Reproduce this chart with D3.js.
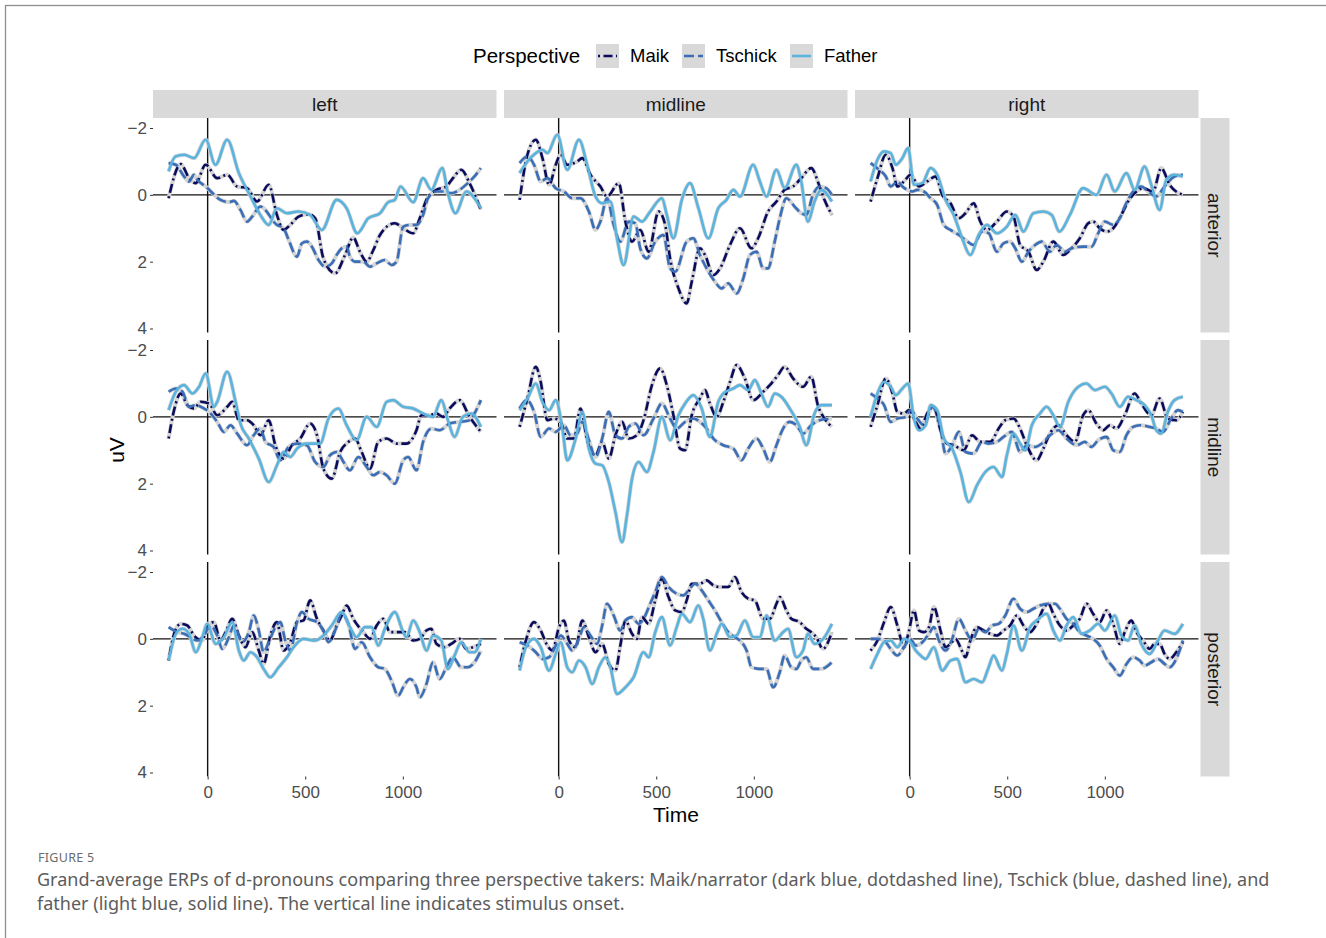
<!DOCTYPE html>
<html><head><meta charset="utf-8">
<script src="https://cdn.jsdelivr.net/npm/d3@7"></script>
<style>body{margin:0;background:#fff}svg{display:block}</style>
</head><body>
<svg id="c" width="1326" height="938"></svg>
<script>
// ---------------- DATA (time in ms, amplitude in uV) ----------------
const hemispheres = ["left", "midline", "right"];
const regions = ["anterior", "midline", "posterior"];
const perspectives = ["Maik", "Tschick", "Father"];
const xTicks = [0, 500, 1000];
const yTicks = [-2, 0, 2, 4];

// anterior
const antLeftMaik = [[-200,0.1],[-138,-0.92],[-95,-0.5],[-61,-0.35],[-10,-0.9],[49,-0.5],[100,-0.6],[151,-0.25],[202,-0.2],[253,0.2],[313,-0.3],[355,0.6],[389,1.05],[423,0.9],[466,0.65],[517,0.58],[551,0.7],[593,1.9],[653,2.35],[704,1.8],[746,1.28],[780,1.7],[815,2.0],[849,1.65],[883,1.2],[959,0.85],[1002,1.0],[1053,1.15],[1087,0.7],[1121,0.15],[1172,-0.15],[1223,-0.25],[1257,-0.5],[1299,-0.75],[1342,-0.35],[1400,0.45]];
const antLeftTschick = [[-200,-0.95],[-163,-0.9],[-121,-0.55],[-95,-0.4],[-70,-0.6],[-53,-0.45],[-10,-0.25],[66,0.15],[109,0.22],[134,0.18],[168,0.45],[202,0.8],[228,0.65],[270,0.35],[355,0.9],[389,1.0],[415,1.35],[458,1.85],[483,1.45],[508,1.4],[534,1.55],[568,1.95],[602,2.15],[636,2.05],[661,1.8],[687,1.6],[712,1.55],[729,1.85],[755,2.0],[798,2.0],[831,2.15],[866,2.05],[908,1.95],[942,2.1],[968,2.0],[1002,0.95],[1036,0.9],[1070,0.9],[1104,0.6],[1129,0.1],[1172,-0.1],[1206,-0.1],[1248,-0.05],[1291,-0.15],[1333,-0.35],[1367,-0.55],[1400,-0.8]];
const antLeftFather = [[-200,-0.7],[-165,-1.15],[-120,-1.2],[-70,-1.1],[-10,-1.65],[40,-0.9],[100,-1.65],[160,-0.65],[220,0.05],[270,0.6],[313,0.9],[355,0.4],[406,0.55],[466,0.5],[525,0.6],[585,1.05],[661,0.15],[712,0.4],[767,1.15],[823,0.7],[883,0.55],[925,0.22],[959,0.15],[988,-0.25],[1053,0.22],[1104,-0.5],[1146,-0.15],[1202,-0.8],[1231,-0.05],[1270,0.55],[1325,-0.1],[1400,0.4]];

const antMidMaik = [[-200,0.15],[-160,-1.2],[-117,-1.65],[-83,-1.1],[-49,-0.3],[-15,-0.9],[10,-1.2],[44,-0.9],[95,-1.0],[121,-1.1],[163,-0.6],[214,-0.25],[248,0.05],[308,-0.35],[342,0.8],[376,1.4],[418,1.05],[461,1.7],[512,0.5],[546,0.9],[571,1.9],[614,2.8],[656,3.25],[682,2.6],[724,1.6],[750,1.8],[793,2.4],[827,2.2],[878,1.5],[929,1.0],[988,1.6],[1022,1.3],[1073,0.5],[1116,0.2],[1158,-0.15],[1201,-0.25],[1243,-0.5],[1294,-0.8],[1337,-0.25],[1362,0.15],[1400,0.6]];
const antMidTschick = [[-200,-0.95],[-160,-1.15],[-126,-0.9],[-92,-0.4],[-58,-0.5],[-15,-0.2],[27,-0.1],[70,0.1],[112,0.1],[155,0.5],[189,1.05],[214,0.8],[248,0.1],[282,0.9],[316,1.4],[359,0.8],[393,0.85],[418,1.6],[452,1.9],[495,1.4],[537,1.2],[571,2.2],[597,2.3],[656,1.4],[690,1.3],[724,1.8],[758,2.2],[801,2.6],[835,2.8],[869,2.65],[912,2.95],[946,2.5],[980,1.8],[1014,1.7],[1048,2.2],[1073,2.2],[1107,1.4],[1133,0.7],[1167,0.1],[1209,0.35],[1243,0.55],[1269,0.6],[1303,0.0],[1337,-0.25],[1371,-0.2],[1400,0.0]];
const antMidFather = [[-200,-0.65],[-160,-1.0],[-117,-1.25],[-83,-1.35],[-58,-1.25],[-7,-1.8],[44,-0.75],[104,-1.65],[146,-0.9],[189,0.05],[223,0.25],[265,0.2],[299,1.3],[333,2.1],[384,0.65],[427,0.8],[469,0.5],[529,0.1],[554,0.6],[588,1.3],[631,0.15],[673,-0.35],[716,0.4],[767,1.3],[818,0.4],[860,0.15],[895,-0.15],[929,0.05],[997,-0.9],[1031,-0.4],[1065,0.05],[1116,-0.75],[1158,-0.2],[1218,-0.9],[1243,-0.4],[1277,0.8],[1311,0.2],[1345,-0.15],[1400,0.2]];

const antRightMaik = [[-200,0.2],[-165,-0.5],[-122,-1.2],[-88,-0.8],[-63,-0.25],[-29,-0.4],[5,-0.6],[48,-0.25],[90,-0.4],[133,-0.55],[167,0.0],[209,0.25],[252,0.7],[286,0.55],[328,0.25],[362,0.8],[396,1.05],[447,0.8],[498,0.5],[532,0.65],[566,1.5],[609,1.7],[651,2.25],[685,2.0],[736,1.4],[787,1.8],[830,1.6],[872,1.3],[915,0.85],[940,0.8],[974,1.0],[1009,1.1],[1043,1.0],[1085,0.6],[1119,0.2],[1162,-0.1],[1196,-0.2],[1247,-0.1],[1289,-0.8],[1332,-0.3],[1400,0.0]];
const antRightTschick = [[-200,-0.95],[-156,-0.75],[-122,-0.55],[-97,-0.25],[-63,-0.4],[-37,-0.25],[-12,-0.15],[14,-0.1],[39,-0.15],[73,-0.1],[107,0.1],[141,0.3],[175,0.9],[209,1.05],[252,1.2],[286,1.35],[328,1.5],[371,1.1],[405,1.15],[447,1.7],[481,1.45],[515,1.4],[541,1.6],[575,2.0],[609,1.7],[643,1.5],[677,1.4],[719,1.7],[753,1.5],[796,1.7],[830,1.6],[889,1.55],[932,1.55],[966,1.15],[1000,0.8],[1043,0.9],[1077,0.7],[1102,0.35],[1145,-0.1],[1187,-0.25],[1221,-0.1],[1264,0.05],[1306,-0.25],[1357,-0.55],[1400,-0.6]];
const antRightFather = [[-200,-0.4],[-165,-1.05],[-131,-1.3],[-97,-1.25],[-71,-0.9],[-37,-1.1],[-8,-1.4],[22,-0.3],[65,-0.35],[107,-0.8],[141,-0.6],[184,0.15],[226,0.6],[269,1.3],[311,1.8],[354,1.2],[396,0.9],[447,1.15],[498,0.95],[541,0.6],[583,1.1],[634,0.55],[685,0.5],[728,0.6],[767,1.1],[821,0.6],[889,-0.2],[957,0.0],[1009,-0.6],[1051,-0.1],[1111,-0.65],[1153,-0.15],[1204,-0.85],[1238,-0.3],[1281,0.45],[1315,-0.45],[1357,-0.6],[1400,-0.55]];

// midline
const midLeftMaik = [[-200,0.65],[-172,-0.2],[-138,-0.7],[-104,-0.35],[-70,-0.25],[-36,-0.45],[7,-0.4],[49,-0.05],[100,-0.3],[126,-0.45],[160,0.1],[202,0.1],[236,0.25],[270,0.55],[313,0.1],[347,0.85],[389,1.25],[432,0.85],[474,0.65],[525,0.2],[560,0.55],[593,1.55],[636,1.85],[679,1.05],[721,0.75],[755,0.65],[789,1.05],[832,1.55],[874,0.75],[917,0.65],[968,0.8],[1019,0.8],[1070,0.4],[1095,-0.05],[1138,-0.05],[1172,-0.1],[1206,0.0],[1240,-0.25],[1291,-0.5],[1342,0.0],[1400,0.45]];
const midLeftTschick = [[-200,-0.75],[-163,-0.85],[-129,-0.75],[-95,-0.3],[-61,-0.35],[-19,-0.25],[7,-0.15],[49,0.15],[83,0.45],[117,0.25],[151,0.5],[202,0.85],[236,0.55],[270,0.35],[296,0.75],[338,0.9],[372,1.3],[415,0.9],[458,0.8],[508,0.85],[551,1.35],[593,1.5],[627,1.15],[661,1.05],[696,1.35],[729,1.6],[772,1.2],[815,1.5],[849,1.75],[883,1.65],[917,1.75],[959,2.0],[1002,1.3],[1027,1.2],[1070,1.6],[1104,0.75],[1146,0.35],[1189,0.4],[1240,0.2],[1291,0.15],[1342,0.1],[1367,-0.1],[1400,-0.5]];
const midLeftFather = [[-200,-0.2],[-163,-0.75],[-121,-0.95],[-78,-0.7],[-44,-0.9],[-10,-1.3],[32,-0.3],[49,-0.45],[100,-1.35],[143,-0.45],[168,0.2],[211,0.65],[262,1.25],[313,1.95],[355,1.45],[389,1.05],[423,1.2],[458,0.95],[508,0.8],[576,0.8],[619,0.05],[670,-0.25],[712,0.25],[763,0.7],[815,0.0],[866,0.3],[917,-0.45],[951,-0.5],[1002,-0.3],[1053,-0.25],[1104,-0.1],[1155,0.0],[1197,-0.5],[1231,0.1],[1265,0.6],[1308,0.0],[1350,-0.1],[1400,0.3]];

const midMidMaik = [[-200,0.3],[-160,-0.55],[-117,-1.5],[-92,-1.05],[-58,0.1],[-24,0.05],[10,0.15],[44,0.65],[78,0.65],[112,-0.25],[146,0.7],[189,1.15],[223,0.75],[257,1.25],[291,0.55],[325,0.15],[359,0.65],[401,0.55],[435,0.1],[478,-0.95],[520,-1.45],[554,-0.95],[588,-0.05],[622,0.95],[648,1.0],[682,-0.05],[724,-0.55],[750,-0.8],[775,-0.4],[810,0.0],[844,-0.45],[878,-1.05],[912,-1.55],[954,-1.15],[997,-0.5],[1048,-0.75],[1082,-0.95],[1124,-1.25],[1158,-1.5],[1201,-1.15],[1252,-0.9],[1294,-1.2],[1328,-0.35],[1362,0.05],[1400,0.3]];
const midMidTschick = [[-200,-0.25],[-163,-0.5],[-126,-0.15],[-92,0.6],[-49,0.35],[-15,0.45],[27,0.25],[61,0.55],[95,0.5],[121,0.15],[155,0.7],[189,1.2],[223,0.65],[257,-0.15],[291,0.55],[325,0.65],[359,0.3],[393,0.2],[435,0.55],[486,0.05],[529,-0.4],[571,0.05],[605,0.35],[648,0.15],[690,0.05],[724,0.15],[758,0.35],[793,0.65],[844,0.85],[895,0.95],[937,1.3],[971,0.95],[1014,0.65],[1048,0.95],[1082,1.35],[1116,0.85],[1150,0.35],[1184,0.15],[1218,0.25],[1252,0.5],[1294,0.25],[1337,0.1],[1400,0.05]];
const midMidFather = [[-200,-0.2],[-160,-0.55],[-117,-1.0],[-83,-0.45],[-49,-0.2],[-15,-0.5],[19,0.35],[44,1.3],[87,0.65],[121,-0.15],[155,0.95],[189,1.4],[223,1.45],[257,1.95],[291,2.85],[325,3.75],[350,2.95],[376,1.85],[410,1.35],[452,1.65],[486,1.05],[529,0.0],[571,0.7],[614,-0.05],[648,-0.4],[690,-0.65],[733,-0.25],[775,0.6],[818,-0.45],[844,-0.7],[895,-0.85],[929,-0.95],[971,-0.8],[1005,-1.1],[1039,-0.7],[1073,-0.3],[1107,-0.7],[1141,-0.6],[1184,-0.25],[1235,0.3],[1269,0.85],[1311,-0.1],[1345,-0.35],[1400,-0.35]];

const midRightMaik = [[-200,0.3],[-165,-0.35],[-122,-1.15],[-88,-0.7],[-63,-0.15],[-29,-0.1],[-3,-0.2],[31,0.15],[56,0.35],[90,-0.1],[124,-0.3],[158,0.4],[192,0.8],[226,0.85],[277,1.0],[320,0.55],[362,0.75],[413,0.75],[456,0.35],[490,0.1],[532,0.05],[566,0.35],[600,0.85],[651,1.3],[685,0.95],[719,0.5],[762,0.25],[804,0.55],[847,0.75],[889,-0.05],[915,-0.2],[957,0.2],[992,0.4],[1026,0.25],[1060,0.35],[1102,-0.05],[1153,-0.7],[1187,-0.4],[1238,-0.05],[1281,-0.55],[1323,0.05],[1366,0.1],[1400,-0.15]];
const midRightTschick = [[-200,-0.7],[-165,-0.55],[-131,-0.35],[-97,0.15],[-63,0.05],[-20,0.0],[5,-0.2],[39,0.05],[73,0.25],[116,-0.3],[158,0.35],[184,1.1],[218,0.85],[252,0.45],[286,1.05],[328,1.1],[371,0.75],[405,0.8],[447,0.75],[481,0.6],[524,0.45],[566,1.05],[600,0.85],[643,0.9],[677,0.8],[719,0.55],[762,0.4],[804,0.65],[855,0.85],[898,0.75],[932,0.9],[966,0.7],[1009,0.6],[1043,1.0],[1077,1.05],[1111,0.55],[1145,0.3],[1179,0.25],[1230,0.3],[1264,0.35],[1298,0.45],[1340,0.05],[1374,-0.2],[1400,-0.15]];
const midRightFather = [[-200,0.0],[-165,-0.7],[-131,-1.05],[-97,-0.9],[-71,-0.65],[-37,-0.85],[-8,-1.0],[22,0.05],[48,0.4],[82,0.25],[107,-0.35],[141,-0.2],[175,0.65],[218,0.95],[260,1.65],[303,2.55],[345,2.05],[388,1.65],[430,1.5],[473,1.8],[498,1.15],[532,0.5],[566,0.8],[592,1.0],[626,0.25],[668,-0.1],[702,-0.3],[736,-0.05],[770,0.3],[813,-0.45],[855,-0.85],[906,-1.0],[949,-0.8],[1000,-0.9],[1034,-0.7],[1077,-0.3],[1119,-0.6],[1162,-0.5],[1204,-0.35],[1238,-0.05],[1264,0.4],[1289,0.5],[1323,-0.15],[1357,-0.5],[1400,-0.6]];

// posterior
const postLeftMaik = [[-200,0.65],[-172,-0.15],[-138,-0.45],[-104,-0.4],[-70,-0.1],[-27,0.05],[-2,-0.4],[32,-0.5],[66,0.05],[92,-0.2],[126,-0.6],[160,-0.1],[194,0.25],[228,-0.2],[262,0.35],[287,0.75],[321,-0.1],[355,-0.5],[389,0.35],[423,0.1],[458,-0.5],[491,-0.55],[525,-1.15],[560,-0.6],[593,-0.25],[627,0.05],[661,-0.4],[687,-0.7],[712,-1.0],[746,-0.6],[798,-0.2],[832,0.0],[866,-0.4],[900,-0.6],[934,-0.2],[968,-0.2],[1010,-0.2],[1053,0.05],[1087,0.0],[1121,-0.25],[1146,-0.3],[1172,0.15],[1214,0.25],[1248,0.15],[1291,0.0],[1325,0.3],[1359,0.25],[1400,0.15]];
const postLeftTschick = [[-200,-0.35],[-155,-0.2],[-121,-0.15],[-87,-0.05],[-53,0.05],[-19,-0.1],[15,-0.4],[49,-0.1],[75,0.3],[109,-0.05],[134,-0.4],[177,0.1],[211,-0.2],[236,-0.7],[262,-0.25],[287,0.4],[313,0.1],[347,-0.35],[372,-0.5],[398,0.05],[423,0.35],[458,-0.5],[483,-0.8],[517,-0.6],[560,-0.5],[593,-0.25],[619,0.1],[653,-0.25],[687,-0.75],[721,-0.45],[755,0.3],[789,0.1],[832,0.55],[874,0.85],[908,0.9],[942,1.25],[976,1.7],[1002,1.45],[1036,1.2],[1070,1.45],[1087,1.75],[1121,1.35],[1155,0.7],[1189,1.2],[1223,0.85],[1257,0.55],[1299,0.85],[1333,0.85],[1367,0.7],[1400,0.35]];
const postLeftFather = [[-200,0.65],[-163,-0.15],[-129,-0.3],[-95,-0.15],[-61,0.4],[-27,-0.05],[-2,-0.45],[41,0.15],[83,-0.05],[126,-0.5],[160,0.35],[185,0.65],[219,0.4],[253,0.55],[287,0.9],[321,1.15],[364,0.85],[406,0.55],[440,0.25],[491,0.0],[551,0.05],[593,-0.1],[636,-0.4],[687,-0.8],[729,-0.35],[763,-0.05],[806,-0.35],[840,-0.35],[874,0.2],[908,-0.3],[959,-0.8],[1002,-0.2],[1019,-0.05],[1053,-0.55],[1087,-0.2],[1121,0.35],[1155,-0.1],[1197,0.05],[1231,0.9],[1265,0.5],[1299,0.1],[1342,0.4],[1367,0.4],[1400,0.0]];

const postMidMaik = [[-200,0.85],[-168,0.05],[-126,-0.5],[-92,-0.25],[-58,0.2],[-32,0.35],[2,-0.35],[27,-0.55],[53,0.05],[87,0.25],[121,-0.55],[155,-0.05],[189,0.4],[223,0.15],[257,0.75],[291,0.95],[316,0.2],[342,-0.55],[376,-0.15],[401,0.0],[427,-0.65],[461,-0.45],[495,-1.15],[529,-1.8],[563,-1.25],[597,-0.85],[631,-0.8],[656,-1.15],[682,-1.65],[724,-1.65],[758,-1.75],[793,-1.6],[827,-1.55],[869,-1.55],[903,-1.85],[937,-1.4],[971,-1.2],[1005,-1.15],[1048,-0.6],[1082,-0.6],[1116,-1.05],[1133,-1.25],[1167,-0.85],[1192,-0.6],[1235,-0.5],[1269,-0.3],[1294,-0.2],[1320,-0.05],[1354,0.3],[1400,-0.2]];
const postMidTschick = [[-200,0.1],[-160,0.2],[-117,0.4],[-83,0.6],[-49,0.55],[-15,0.2],[10,-0.1],[44,0.15],[70,0.35],[104,0.0],[129,-0.35],[163,-0.1],[197,0.15],[223,-0.4],[248,-1.05],[282,-0.7],[316,-0.25],[342,-0.55],[376,-0.65],[410,-0.45],[435,-0.6],[469,-1.05],[495,-1.4],[529,-1.85],[563,-1.55],[605,-1.35],[639,-1.3],[665,-1.45],[699,-1.65],[733,-1.45],[767,-1.15],[801,-0.85],[835,-0.5],[869,-0.2],[903,-0.05],[929,0.05],[963,0.35],[988,0.85],[1031,0.9],[1065,0.9],[1099,1.45],[1133,1.0],[1158,0.5],[1192,0.85],[1218,0.9],[1243,0.65],[1269,0.55],[1303,0.9],[1345,0.9],[1400,0.7]];
const postMidFather = [[-200,0.95],[-168,0.25],[-126,0.0],[-92,0.25],[-49,0.95],[-15,0.45],[10,0.1],[44,0.85],[70,1.0],[104,0.65],[138,0.85],[172,1.35],[206,0.85],[240,0.55],[265,0.85],[299,1.65],[342,1.45],[384,1.15],[435,0.4],[461,0.55],[495,-0.2],[529,-0.65],[571,0.2],[605,-0.35],[631,-0.75],[673,-0.5],[716,-1.0],[741,-0.6],[775,0.35],[810,-0.15],[835,-0.45],[878,-0.05],[912,-0.1],[954,-0.55],[997,-0.05],[1031,-0.05],[1065,-0.7],[1107,0.05],[1150,-0.2],[1175,-0.3],[1218,0.55],[1252,0.35],[1277,-0.15],[1311,0.15],[1362,-0.05],[1400,-0.45]];

const postRightMaik = [[-200,0.35],[-165,0.05],[-131,-0.5],[-97,-0.95],[-63,-0.4],[-29,0.25],[-3,-0.25],[22,-0.85],[48,-0.25],[73,-0.2],[99,-0.35],[124,-0.95],[158,-0.25],[184,0.25],[209,0.15],[235,0.0],[260,0.25],[286,0.55],[311,0.05],[345,-0.35],[379,-0.25],[413,-0.15],[447,-0.1],[481,-0.25],[515,-0.4],[549,-0.7],[583,-0.4],[617,-0.2],[651,-0.45],[685,-0.9],[711,-1.05],[736,-0.75],[770,-0.4],[804,-0.25],[838,-0.4],[872,-0.6],[906,-1.05],[940,-0.75],[974,-0.5],[1009,-0.85],[1043,-0.45],[1077,0.15],[1102,-0.2],[1136,-0.55],[1162,-0.2],[1196,0.05],[1230,0.3],[1255,0.15],[1281,0.15],[1306,0.45],[1332,0.6],[1366,0.4],[1400,0.1]];
const postRightTschick = [[-200,0.0],[-165,0.0],[-131,0.05],[-97,0.3],[-63,0.5],[-29,0.25],[2,0.0],[31,0.2],[65,0.1],[99,-0.15],[124,-0.35],[150,0.05],[184,0.35],[218,0.0],[252,-0.6],[286,-0.25],[320,0.05],[354,-0.3],[388,-0.2],[422,-0.4],[456,-0.45],[490,-0.7],[532,-1.2],[566,-0.9],[600,-0.8],[634,-0.9],[668,-1.0],[711,-1.05],[745,-1.05],[770,-0.9],[804,-0.6],[838,-0.45],[872,-0.2],[906,-0.1],[940,0.0],[974,0.2],[1009,0.6],[1043,0.85],[1077,1.1],[1111,0.75],[1145,0.55],[1179,0.65],[1204,0.8],[1238,0.7],[1272,0.6],[1306,0.75],[1332,0.85],[1366,0.6],[1400,0.05]];
const postRightFather = [[-200,0.9],[-165,0.45],[-131,0.1],[-97,0.05],[-63,0.25],[-29,0.0],[5,0.1],[31,0.35],[56,0.5],[82,0.6],[124,0.25],[167,0.95],[209,0.65],[243,0.6],[286,1.3],[328,1.2],[371,1.3],[405,0.85],[430,0.5],[473,0.95],[498,0.45],[532,-0.4],[575,0.35],[617,-0.35],[651,-0.55],[702,-0.75],[736,-0.25],[770,0.05],[804,-0.4],[838,-0.65],[881,-0.15],[923,-0.25],[966,-0.45],[1000,-0.25],[1051,-0.7],[1085,-0.1],[1119,0.05],[1153,-0.4],[1187,0.15],[1230,0.45],[1272,0.05],[1306,-0.25],[1357,-0.15],[1400,-0.45]];

const erp = {
  anterior: {left: {Maik: antLeftMaik, Tschick: antLeftTschick, Father: antLeftFather},
             midline: {Maik: antMidMaik, Tschick: antMidTschick, Father: antMidFather},
             right: {Maik: antRightMaik, Tschick: antRightTschick, Father: antRightFather}},
  midline: {left: {Maik: midLeftMaik, Tschick: midLeftTschick, Father: midLeftFather},
            midline: {Maik: midMidMaik, Tschick: midMidTschick, Father: midMidFather},
            right: {Maik: midRightMaik, Tschick: midRightTschick, Father: midRightFather}},
  posterior: {left: {Maik: postLeftMaik, Tschick: postLeftTschick, Father: postLeftFather},
              midline: {Maik: postMidMaik, Tschick: postMidTschick, Father: postMidFather},
              right: {Maik: postRightMaik, Tschick: postRightTschick, Father: postRightFather}}
};

// ---------------- STYLE ----------------
const colors = {Maik: "#0b0b5c", Tschick: "#3a6eb7", Father: "#5bb4de"};
const dashes = {Maik: "2,3.5,9,3.5", Tschick: "10,4", Father: null};
const FONT = "'Liberation Sans', Arial, Helvetica, sans-serif";

const svg = d3.select("#c");
svg.append("rect").attr("width", 1326).attr("height", 938).attr("fill", "#fff");
svg.append("rect").attr("x", 5.5).attr("y", 5.5).attr("width", 1340).attr("height", 960)
  .attr("fill", "none").attr("stroke", "#8f8f8f").attr("stroke-width", 1.3);

const panelX0 = 153, panelW = 343.5, gapX = 7.5;
const panelY0 = 118, panelH = 214.5, gapY = 7.5;
const stripH = 28, stripW = 29;

const x = d3.scaleLinear().domain([-280, 1480]).range([0, panelW]);
const y = d3.scaleLinear().domain([-2.3, 4.12]).range([0, panelH]);
const line = d3.line().x(d => x(d[0])).y(d => y(d[1])).curve(d3.curveMonotoneX);

// column strips
hemispheres.forEach((h, ci) => {
  const px = panelX0 + ci * (panelW + gapX);
  svg.append("rect").attr("x", px).attr("y", panelY0 - stripH).attr("width", panelW).attr("height", stripH).attr("fill", "#d9d9d9");
  svg.append("text").attr("x", px + panelW / 2).attr("y", panelY0 - stripH / 2).attr("dy", "0.35em")
    .attr("text-anchor", "middle").attr("font-family", FONT).attr("font-size", 19).attr("fill", "#1a1a1a").text(h);
});
// row strips
regions.forEach((r, ri) => {
  const py = panelY0 + ri * (panelH + gapY);
  const sx = panelX0 + 3 * panelW + 2 * gapX + 2;
  svg.append("rect").attr("x", sx).attr("y", py).attr("width", stripW).attr("height", panelH).attr("fill", "#d9d9d9");
  svg.append("text").attr("transform", `translate(${sx + stripW / 2},${py + panelH / 2}) rotate(90)`)
    .attr("dy", "0.35em").attr("text-anchor", "middle").attr("font-family", FONT).attr("font-size", 19).attr("fill", "#1a1a1a").text(r);
});

regions.forEach((r, ri) => {
  hemispheres.forEach((h, ci) => {
    const px = panelX0 + ci * (panelW + gapX);
    const py = panelY0 + ri * (panelH + gapY);
    const g = svg.append("g").attr("transform", `translate(${px},${py})`);
    // reference lines
    g.append("line").attr("x1", 0).attr("x2", panelW).attr("y1", y(0)).attr("y2", y(0)).attr("stroke", "#111").attr("stroke-width", 1.4);
    g.append("line").attr("x1", x(0)).attr("x2", x(0)).attr("y1", 0).attr("y2", panelH).attr("stroke", "#111").attr("stroke-width", 1.4);
    // grey underlay
    perspectives.forEach(p => {
      g.append("path").attr("d", line(erp[r][h][p])).attr("fill", "none")
        .attr("stroke", "#d4d4d4").attr("stroke-width", 4).attr("stroke-linejoin", "round");
    });
    perspectives.forEach(p => {
      g.append("path").attr("d", line(erp[r][h][p])).attr("fill", "none")
        .attr("stroke", colors[p]).attr("stroke-width", 2.6).attr("stroke-linejoin", "round")
        .attr("stroke-dasharray", dashes[p]);
    });
    if (ci === 0) {
      const ax = g.append("g").call(d3.axisLeft(y).tickValues(yTicks).tickSize(3).tickPadding(3)
        .tickFormat(d => d < 0 ? "\u2212" + Math.abs(d) : String(d)));
      ax.select(".domain").remove();
      ax.selectAll("line").attr("stroke", "#333");
      ax.selectAll("text").attr("font-family", FONT).attr("font-size", 17).attr("fill", "#4d4d4d");
    }
    if (ri === 2) {
      const ax = g.append("g").attr("transform", `translate(0,${panelH})`)
        .call(d3.axisBottom(x).tickValues(xTicks).tickSize(3).tickPadding(6).tickFormat(d3.format("d")));
      ax.select(".domain").remove();
      ax.selectAll("line").attr("stroke", "#333");
      ax.selectAll("text").attr("font-family", FONT).attr("font-size", 17).attr("fill", "#4d4d4d");
    }
  });
});

// axis titles
svg.append("text").attr("x", 676).attr("y", 815).attr("dy", "0.35em").attr("text-anchor", "middle")
  .attr("font-family", FONT).attr("font-size", 21).attr("fill", "#000").text("Time");
svg.append("text").attr("transform", "translate(117,450) rotate(-90)").attr("dy", "0.35em").attr("text-anchor", "middle")
  .attr("font-family", FONT).attr("font-size", 21).attr("fill", "#000").text("uV");

// legend
const leg = svg.append("g");
leg.append("text").attr("x", 473).attr("y", 56).attr("dy", "0.35em").attr("font-family", FONT).attr("font-size", 20.5).attr("fill", "#000").text("Perspective");
const keyX = {Maik: 596, Tschick: 682, Father: 790};
perspectives.forEach(p => {
  const kx = keyX[p];
  leg.append("rect").attr("x", kx).attr("y", 44).attr("width", 23).attr("height", 24).attr("fill", "#d9d9d9");
  leg.append("line").attr("x1", kx + 2).attr("x2", kx + 21).attr("y1", 56).attr("y2", 56)
    .attr("stroke", colors[p]).attr("stroke-width", 2.6).attr("stroke-dasharray", dashes[p]);
  leg.append("text").attr("x", kx + 34).attr("y", 56).attr("dy", "0.35em").attr("font-family", FONT)
    .attr("font-size", 18.5).attr("fill", "#000").text(p);
});

// caption
const CAP = "'Noto Sans', 'Open Sans', sans-serif";
svg.append("text").attr("x", 38).attr("y", 862).attr("font-family", CAP).attr("font-size", 12.5)
  .attr("letter-spacing", 0.3).attr("fill", "#6b6b6b").text("FIGURE 5");
const cap1 = svg.append("text").attr("x", 37).attr("y", 886).attr("font-family", CAP).attr("font-size", 16.5).attr("fill", "#5c5c5c")
  .text("Grand-average ERPs of d-pronouns comparing three perspective takers: Maik/narrator (dark blue, dotdashed line), Tschick (blue, dashed line), and");
svg.append("text").attr("x", 37).attr("y", 910).attr("font-family", CAP).attr("font-size", 16.5).attr("fill", "#5c5c5c")
  .text("father (light blue, solid line). The vertical line indicates stimulus onset.");
const w = cap1.node().getComputedTextLength();
if (w > 0) {
  const fs = 16.5 * 1233 / w;
  svg.selectAll("text").filter(function(){ return +d3.select(this).attr("font-size") === 16.5; }).attr("font-size", fs.toFixed(2));
}
</script>
</body></html>
